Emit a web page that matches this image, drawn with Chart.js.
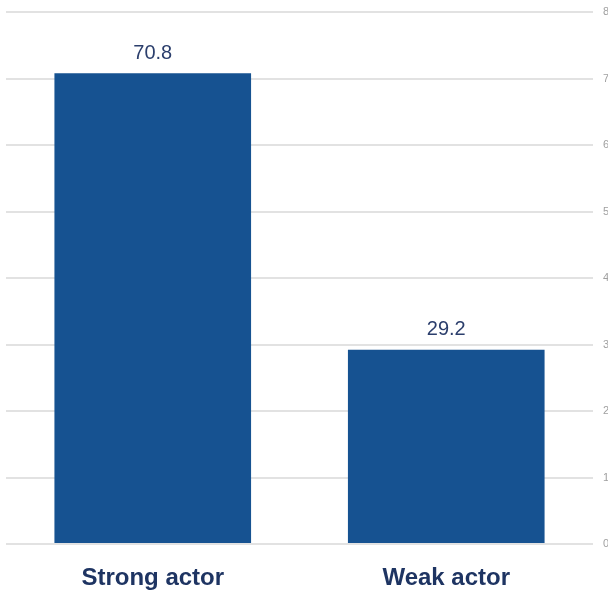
<!DOCTYPE html>
<html>
<head>
<meta charset="utf-8">
<script src="https://cdn.jsdelivr.net/npm/chart.js@4"></script>
<style>
  html, body { margin: 0; padding: 0; background: #fff; overflow: hidden; }
  #clip { width: 608px; height: 590px; overflow: hidden; position: relative; }
  #wrap { position: absolute; left: 0; top: 0; width: 615px; height: 590px; }
</style>
</head>
<body>
<div id="clip"><div id="wrap"><canvas id="barChart"></canvas></div></div>
<script>
const categories = ["Strong actor", "Weak actor"];
const shares = [70.8, 29.2];
const yTicks = [0, 10, 20, 30, 40, 50, 60, 70, 80];

// draws the value above each bar
const valueLabels = {
  id: "valueLabels",
  afterDatasetsDraw(chart) {
    const ctx = chart.ctx;
    const meta = chart.getDatasetMeta(0);
    ctx.save();
    ctx.font = "20px 'Liberation Sans', Arial, sans-serif";
    ctx.fillStyle = "#2b3e6c";
    ctx.textAlign = "center";
    ctx.textBaseline = "middle";
    meta.data.forEach((bar, i) => {
      ctx.fillText(shares[i].toFixed(1), bar.x, bar.y - 20);
    });
    ctx.restore();
  }
};

new Chart(document.getElementById("barChart"), {
  type: "bar",
  data: {
    labels: categories,
    datasets: [{
      data: shares,
      backgroundColor: "#165291",
      barPercentage: 0.67,
      categoryPercentage: 1
    }]
  },
  options: {
    responsive: true,
    maintainAspectRatio: false,
    animation: false,
    layout: { padding: { left: 6, top: 12 } },
    plugins: { legend: { display: false }, tooltip: { enabled: false } },
    scales: {
      x: {
        afterFit(axis) { axis.height = 46; },
        grid: { display: false, drawTicks: false },
        border: { display: false },
        ticks: {
          padding: 20,
          color: "#1e3462",
          font: { family: "'Liberation Sans', Arial, sans-serif", size: 24, weight: "bold" }
        }
      },
      y: {
        position: "right",
        min: 0,
        max: 80,
        afterFit(axis) { axis.width = 22; axis.paddingTop = 0; axis.paddingBottom = 0; },
        afterBuildTicks(axis) { axis.ticks = yTicks.map(v => ({ value: v })); },
        grid: { color: "#e2e2e2", lineWidth: 2, drawTicks: false },
        border: { display: false },
        ticks: {
          padding: 10,
          color: "#a0a0a0",
          font: { family: "'Liberation Sans', Arial, sans-serif", size: 11 }
        }
      }
    }
  },
  plugins: [valueLabels]
});
</script>
</body>
</html>
